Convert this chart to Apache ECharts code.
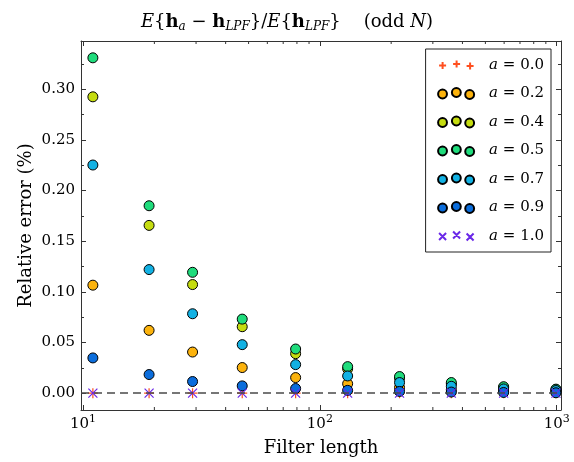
<!DOCTYPE html>
<html>
<head>
<meta charset="utf-8">
<script src="https://cdn.jsdelivr.net/npm/echarts@6/dist/echarts.min.js"></script>
<style>
	html, body { margin: 0; padding: 0; background: #fff; }
	#chart { width: 574px; height: 462px; }
</style>
</head>
<body>
<div id="chart"></div>
<script>
	// filter lengths (x, log axis)
	var filterLen = [11, 19, 29, 47, 79, 131, 217, 359, 597, 993];
	// relative error (%) for each a
	var errA00 = [0, 0, 0, 0, 0, 0, 0, 0, 0, 0];
	var errA02 = [0.1066, 0.062, 0.0406, 0.0253, 0.0154, 0.0093, 0.0055, 0.0034, 0.0021, 0.0013];
	var errA04 = [0.2925, 0.1656, 0.1072, 0.0656, 0.039, 0.0240, 0.0148, 0.0092, 0.0057, 0.0035];
	var errA05 = [0.331, 0.185, 0.1193, 0.0731, 0.0436, 0.0262, 0.0164, 0.0105, 0.0064, 0.0040];
	var errA07 = [0.2252, 0.122, 0.0784, 0.0479, 0.0282, 0.0170, 0.0105, 0.0068, 0.0042, 0.0026];
	var errA09 = [0.0348, 0.0184, 0.0115, 0.0072, 0.0046, 0.0028, 0.0017, 0.0011, 0.0007, 0.0004];
	var errA10 = [0, 0, 0, 0, 0, 0, 0, 0, 0, 0];
	// minor ticks of the log axis
	var minorX = [20, 30, 40, 50, 60, 70, 80, 90, 200, 300, 400, 500, 600, 700, 800, 900];

	var yMin = -0.0166, yMax = 0.3476;
	var xMin = 9.8, xMax = 1043;
	var serif = 'DejaVu Serif';
	var axisColor = '#333';

	function pairs(ys) {
		return filterLen.map(function (x, i) { return [x, ys[i]]; });
	}

	// legend icons: three markers, middle one a bit higher (like matplotlib)
	var box = 'M0,0M36,12';
	function circ(cx, cy) {
		return 'M' + (cx - 4.5) + ',' + cy + 'a4.5,4.5 0 1,0 9,0a4.5,4.5 0 1,0 -9,0Z';
	}
	var circles3 = 'path://' + box + circ(4.5, 6.5) + circ(18.5, 5) + circ(32, 7);
	function plus(cx, cy) {
		return 'M' + (cx - 3.5) + ',' + cy + 'L' + (cx + 3.5) + ',' + cy +
			'M' + cx + ',' + (cy - 3.5) + 'L' + cx + ',' + (cy + 3.5);
	}
	function cross(cx, cy) {
		return 'M' + (cx - 3.5) + ',' + (cy - 3.5) + 'L' + (cx + 3.5) + ',' + (cy + 3.5) +
			'M' + (cx - 3.5) + ',' + (cy + 3.5) + 'L' + (cx + 3.5) + ',' + (cy - 3.5);
	}
	var plus3 = 'path://' + box + plus(4.5, 6.5) + plus(18.5, 5) + plus(32, 7);
	var cross3 = 'path://' + box + cross(4.5, 6.5) + cross(18.5, 5) + cross(32, 7);

	function circleSeries(name, ys, color) {
		return {
			name: name,
			type: 'scatter',
			data: pairs(ys),
			symbol: 'circle',
			symbolSize: 10,
			itemStyle: { color: color, borderColor: '#000', borderWidth: 1, opacity: 1 },
			silent: true
		};
	}
	function lineSeries(name, ys, color, path, size) {
		return {
			name: name,
			type: 'scatter',
			data: pairs(ys),
			symbol: path,
			symbolSize: size,
			itemStyle: { color: 'none', borderColor: color, borderWidth: 1.2, opacity: 1 },
			silent: true
		};
	}

	var myChart = echarts.init(document.getElementById('chart'), null, { renderer: 'canvas' });

	var s0 = lineSeries('0.0', errA00, '#ff4f1f', 'path://M0,5L10,5M5,0L5,10', 10);
	s0.markLine = {
		silent: true,
		symbol: ['none', 'none'],
		label: { show: false },
		lineStyle: { type: [8, 5], color: '#4a4a4a', width: 1.5 },
		data: [{ yAxis: 0 }]
	};

	function frameAxis(pos) {
		return {
			axisLine: { show: true, onZero: false, lineStyle: { color: axisColor, width: 1 } },
			axisTick: { show: true, inside: true, length: 5, lineStyle: { color: axisColor } },
			splitLine: { show: false },
			position: pos
		};
	}

	var xBottom = frameAxis('bottom');
	xBottom.type = 'log';
	xBottom.min = xMin;
	xBottom.max = xMax;
	xBottom.name = 'Filter length';
	xBottom.nameLocation = 'middle';
	xBottom.nameGap = 29;
	xBottom.nameMoveOverlap = false;
	xBottom.nameTextStyle = { fontFamily: serif, fontSize: 18, color: '#000' };
	xBottom.axisLabel = {
		show: true,
		margin: 4,
		showMinLabel: false,
		showMaxLabel: false,
		fontFamily: serif,
		fontSize: 15,
		color: '#000',
		formatter: function (v) {
			var e = Math.round(Math.log(v) / Math.LN10);
			return '10{sup|' + e + '}';
		},
		rich: {
			sup: { fontFamily: serif, fontSize: 11, color: '#000', padding: [0, 0, 10, 0] }
		}
	};

	var xTop = frameAxis('top');
	xTop.type = 'log';
	xTop.min = xMin;
	xTop.max = xMax;
	xTop.axisLabel = { show: false };

	var yLeft = frameAxis('left');
	yLeft.type = 'value';
	yLeft.min = yMin;
	yLeft.max = yMax;
	yLeft.splitNumber = 7;
	yLeft.name = 'Relative error (%)';
	yLeft.nameLocation = 'middle';
	yLeft.nameGap = 46;
	yLeft.nameMoveOverlap = false;
	yLeft.nameTextStyle = { fontFamily: serif, fontSize: 18, color: '#000' };
	yLeft.minorTick = { show: true, splitNumber: 2, length: 3, lineStyle: { color: axisColor } };
	yLeft.axisLabel = {
		margin: 6,
		showMinLabel: false,
		showMaxLabel: false,
		fontFamily: serif,
		fontSize: 15,
		color: '#000',
		formatter: function (v) { return v.toFixed(2); }
	};

	var yRight = frameAxis('right');
	yRight.type = 'value';
	yRight.min = yMin;
	yRight.max = yMax;
	yRight.splitNumber = 7;
	yRight.minorTick = { show: true, splitNumber: 2, length: 3, lineStyle: { color: axisColor } };
	yRight.axisLabel = { show: false };

	var option = {
		animation: false,
		title: {
			text: '{it|E}{{b|h}{sub|a} − {b|h}{sub|LPF}}/{it|E}{{b|h}{sub|LPF}}    (odd {it|N})',
			left: 'center',
			top: 6,
			textStyle: {
				fontFamily: serif,
				fontSize: 18,
				fontWeight: 'normal',
				color: '#000',
				rich: {
					it: { fontFamily: serif, fontSize: 18, fontStyle: 'italic', color: '#000' },
					b: { fontFamily: serif, fontSize: 18, fontWeight: 'bold', color: '#000' },
					sub: { fontFamily: serif, fontSize: 12, fontStyle: 'italic', color: '#000', padding: [10, 0, 0, 0] }
				}
			}
		},
		grid: { left: 81, right: 13, top: 41, bottom: 50, containLabel: false },
		legend: {
			orient: 'vertical',
			right: 23,
			top: 49,
			padding: [7, 7, 7, 10],
			itemGap: 10.5,
			itemWidth: 36,
			itemHeight: 12,
			borderColor: '#222',
			borderWidth: 1,
			backgroundColor: '#fff',
			selectedMode: false,
			formatter: function (name) { return '{i|a} = ' + name; },
			textStyle: {
				fontFamily: serif,
				fontSize: 15,
				lineHeight: 18,
				color: '#000',
				padding: [0, 0, 0, 10],
				rich: {
					i: { fontFamily: serif, fontSize: 15, fontStyle: 'italic', color: '#000' }
				}
			},
			data: [
				{ name: '0.0', icon: plus3 },
				{ name: '0.2', icon: circles3 },
				{ name: '0.4', icon: circles3 },
				{ name: '0.5', icon: circles3 },
				{ name: '0.7', icon: circles3 },
				{ name: '0.9', icon: circles3 },
				{ name: '1.0', icon: cross3 }
			]
		},
		xAxis: [xBottom, xTop],
		yAxis: [yLeft, yRight],
		series: [
			{
				name: 'minor',
				type: 'custom',
				silent: true,
				clip: false,
				data: minorX.map(function (x) { return [x, 0]; }),
				renderItem: function (params, api) {
					var p0 = api.coord([api.value(0), yMin]);
					var p1 = api.coord([api.value(0), yMax]);
					var st = { stroke: axisColor, lineWidth: 1 };
					return {
						type: 'group',
						children: [
							{ type: 'line', shape: { x1: p0[0], y1: p0[1], x2: p0[0], y2: p0[1] - 3 }, style: st },
							{ type: 'line', shape: { x1: p1[0], y1: p1[1], x2: p1[0], y2: p1[1] + 3 }, style: st }
						]
					};
				}
			},
			s0,
			circleSeries('0.2', errA02, '#fcb30d'),
			circleSeries('0.4', errA04, '#c5dc10'),
			circleSeries('0.5', errA05, '#1fdc7c'),
			circleSeries('0.7', errA07, '#12b1e3'),
			circleSeries('0.9', errA09, '#0b6ddc'),
			lineSeries('1.0', errA10, '#6a28e8', 'path://M0,0L10,10M0,10L10,0', 9)
		]
	};

	myChart.setOption(option);
</script>
</body>
</html>
